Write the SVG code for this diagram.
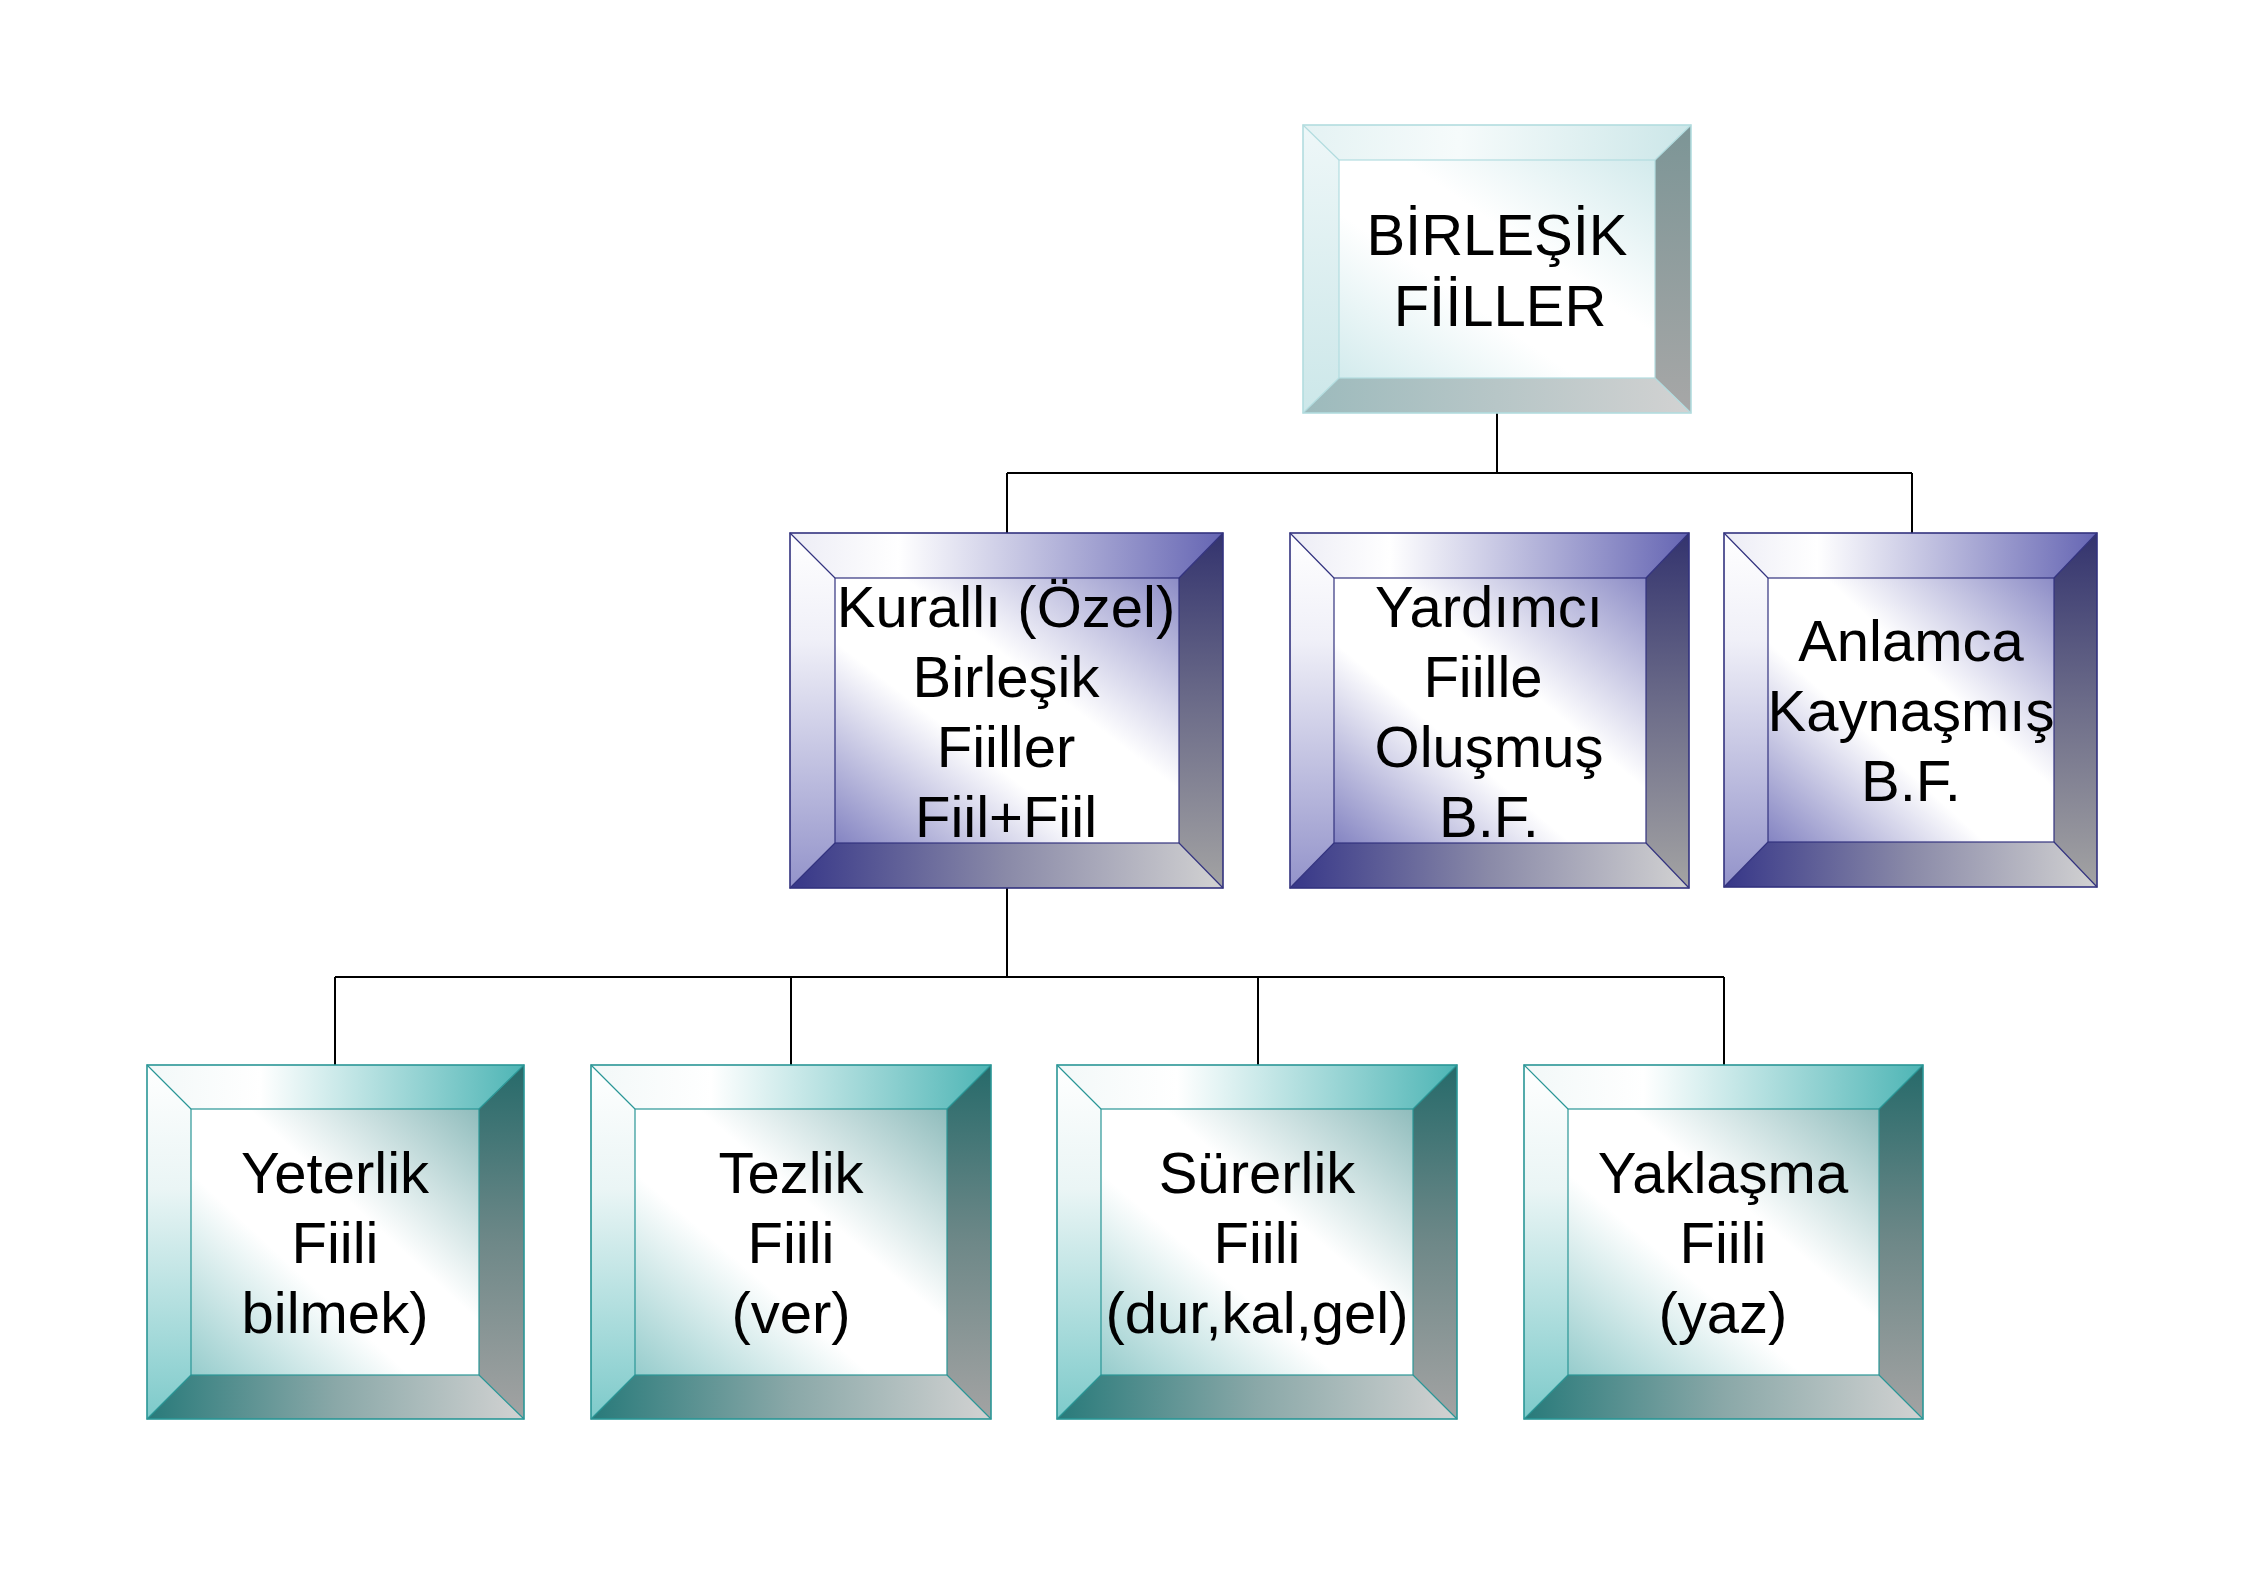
<svg xmlns="http://www.w3.org/2000/svg" width="2258" height="1584" viewBox="0 0 2258 1584">
<style>
  .lbl { font-family: "Liberation Sans", Arial, sans-serif; font-size: 58px; fill: #000; text-anchor: middle; }
  .conn { fill: none; stroke: #000; stroke-width: 2; }
  .ob { fill: none; stroke: #33337f; stroke-width: 1.6; }
  .ib { fill: none; stroke: #33337f; stroke-width: 1.2; }
  .ot { fill: none; stroke: #2a9696; stroke-width: 1.6; }
  .it { fill: none; stroke: #2a9696; stroke-width: 1.2; }
  .oc { fill: none; stroke: #b2dcdf; stroke-width: 1.6; }
  .ic { fill: none; stroke: #b2dcdf; stroke-width: 1.2; }
</style>
<defs>
  <!-- blue scheme -->
  <linearGradient id="bT" x1="0" y1="0" x2="1" y2="0"><stop offset="0" stop-color="#ececf5"/><stop offset="0.25" stop-color="#ffffff"/><stop offset="1" stop-color="#6565b3"/></linearGradient>
  <linearGradient id="bL" x1="0" y1="0" x2="0" y2="1"><stop offset="0" stop-color="#ffffff"/><stop offset="0.3" stop-color="#f0f0f8"/><stop offset="1" stop-color="#9393ca"/></linearGradient>
  <linearGradient id="bR" x1="0" y1="0" x2="0" y2="1"><stop offset="0" stop-color="#33336e"/><stop offset="0.5" stop-color="#6e6e8a"/><stop offset="1" stop-color="#a3a3a3"/></linearGradient>
  <linearGradient id="bB" x1="0" y1="0" x2="1" y2="0"><stop offset="0" stop-color="#363688"/><stop offset="0.5" stop-color="#8a8aa8"/><stop offset="1" stop-color="#d2d2d2"/></linearGradient>
  <linearGradient id="bF" x1="1" y1="0" x2="0" y2="1"><stop offset="0" stop-color="#8c8cc6"/><stop offset="0.4" stop-color="#ffffff"/><stop offset="0.62" stop-color="#ffffff"/><stop offset="1" stop-color="#8484c2"/></linearGradient>
  <!-- teal scheme -->
  <linearGradient id="tT" x1="0" y1="0" x2="1" y2="0"><stop offset="0" stop-color="#f2f8f8"/><stop offset="0.3" stop-color="#ffffff"/><stop offset="1" stop-color="#4db5b5"/></linearGradient>
  <linearGradient id="tL" x1="0" y1="0" x2="0" y2="1"><stop offset="0" stop-color="#ffffff"/><stop offset="0.35" stop-color="#eaf5f5"/><stop offset="1" stop-color="#7dcaca"/></linearGradient>
  <linearGradient id="tR" x1="0" y1="0" x2="0" y2="1"><stop offset="0" stop-color="#266a6a"/><stop offset="0.5" stop-color="#6e8888"/><stop offset="1" stop-color="#a3a3a3"/></linearGradient>
  <linearGradient id="tB" x1="0" y1="0" x2="1" y2="0"><stop offset="0" stop-color="#287a7a"/><stop offset="0.5" stop-color="#8aa8a8"/><stop offset="1" stop-color="#d2d2d2"/></linearGradient>
  <linearGradient id="tF" x1="1" y1="0" x2="0" y2="1"><stop offset="0" stop-color="#8fbcbc"/><stop offset="0.4" stop-color="#ffffff"/><stop offset="0.62" stop-color="#ffffff"/><stop offset="1" stop-color="#96cccc"/></linearGradient>
  <!-- light cyan scheme -->
  <linearGradient id="cT" x1="0" y1="0" x2="1" y2="0"><stop offset="0" stop-color="#e4f2f3"/><stop offset="0.4" stop-color="#f6fbfb"/><stop offset="1" stop-color="#cbe6e8"/></linearGradient>
  <linearGradient id="cL" x1="0" y1="0" x2="0" y2="1"><stop offset="0" stop-color="#eef7f8"/><stop offset="1" stop-color="#cce7e9"/></linearGradient>
  <linearGradient id="cR" x1="0" y1="0" x2="0" y2="1"><stop offset="0" stop-color="#7c9596"/><stop offset="1" stop-color="#a7a7a7"/></linearGradient>
  <linearGradient id="cB" x1="0" y1="0" x2="1" y2="0"><stop offset="0" stop-color="#9cbabc"/><stop offset="1" stop-color="#d2d2d2"/></linearGradient>
  <linearGradient id="cF" x1="1" y1="0" x2="0" y2="1"><stop offset="0" stop-color="#d2eaec"/><stop offset="0.4" stop-color="#ffffff"/><stop offset="0.62" stop-color="#ffffff"/><stop offset="1" stop-color="#d3ebed"/></linearGradient>
</defs>
<rect x="0" y="0" width="2258" height="1584" fill="#ffffff"/>

<g id="connectors">
  <path class="conn" d="M1497,413 V473 M1007,473 H1912 M1007,473 V533 M1912,473 V533"/>
  <path class="conn" d="M1007,888 V977 M335,977 H1724 M335,977 V1065 M791,977 V1065 M1258,977 V1065 M1724,977 V1065"/>
</g>

<g id="node-birlesik-fiiller">
  <polygon fill="url(#cT)" points="1303,125 1691,125 1655,160 1339,160"/>
  <polygon fill="url(#cR)" points="1691,125 1691,413 1655,378 1655,160"/>
  <polygon fill="url(#cB)" points="1303,413 1339,378 1655,378 1691,413"/>
  <polygon fill="url(#cL)" points="1303,125 1339,160 1339,378 1303,413"/>
  <rect fill="url(#cF)" x="1339" y="160" width="316" height="218"/>
  <rect class="oc" x="1303" y="125" width="388" height="288"/>
  <rect class="ic" x="1339" y="160" width="316" height="218"/>
  <path class="ic" d="M1303,125 L1339,160 M1691,125 L1655,160 M1303,413 L1339,378 M1691,413 L1655,378"/>
  <text class="lbl" x="1497" y="255">BİRLEŞİK</text>
  <text class="lbl" x="1500" y="326">FİİLLER</text>
</g>

<g id="node-kuralli">
  <polygon fill="url(#bT)" points="790,533 1223,533 1179,578 835,578"/>
  <polygon fill="url(#bR)" points="1223,533 1223,888 1179,843 1179,578"/>
  <polygon fill="url(#bB)" points="790,888 835,843 1179,843 1223,888"/>
  <polygon fill="url(#bL)" points="790,533 835,578 835,843 790,888"/>
  <rect fill="url(#bF)" x="835" y="578" width="344" height="265"/>
  <rect class="ob" x="790" y="533" width="433" height="355"/>
  <rect class="ib" x="835" y="578" width="344" height="265"/>
  <path class="ib" d="M790,533 L835,578 M1223,533 L1179,578 M790,888 L835,843 M1223,888 L1179,843"/>
  <text class="lbl" x="1006" y="627">Kurallı (Özel)</text>
  <text class="lbl" x="1006" y="697">Birleşik</text>
  <text class="lbl" x="1006" y="767">Fiiller</text>
  <text class="lbl" x="1006" y="837">Fiil+Fiil</text>
</g>

<g id="node-yardimci">
  <polygon fill="url(#bT)" points="1290,533 1689,533 1646,578 1334,578"/>
  <polygon fill="url(#bR)" points="1689,533 1689,888 1646,843 1646,578"/>
  <polygon fill="url(#bB)" points="1290,888 1334,843 1646,843 1689,888"/>
  <polygon fill="url(#bL)" points="1290,533 1334,578 1334,843 1290,888"/>
  <rect fill="url(#bF)" x="1334" y="578" width="312" height="265"/>
  <rect class="ob" x="1290" y="533" width="399" height="355"/>
  <rect class="ib" x="1334" y="578" width="312" height="265"/>
  <path class="ib" d="M1290,533 L1334,578 M1689,533 L1646,578 M1290,888 L1334,843 M1689,888 L1646,843"/>
  <text class="lbl" x="1489" y="627">Yardımcı</text>
  <text class="lbl" x="1483" y="697">Fiille</text>
  <text class="lbl" x="1489" y="767">Oluşmuş</text>
  <text class="lbl" x="1489" y="837">B.F.</text>
</g>

<g id="node-anlamca">
  <polygon fill="url(#bT)" points="1724,533 2097,533 2054,578 1768,578"/>
  <polygon fill="url(#bR)" points="2097,533 2097,887 2054,842 2054,578"/>
  <polygon fill="url(#bB)" points="1724,887 1768,842 2054,842 2097,887"/>
  <polygon fill="url(#bL)" points="1724,533 1768,578 1768,842 1724,887"/>
  <rect fill="url(#bF)" x="1768" y="578" width="286" height="264"/>
  <rect class="ob" x="1724" y="533" width="373" height="354"/>
  <rect class="ib" x="1768" y="578" width="286" height="264"/>
  <path class="ib" d="M1724,533 L1768,578 M2097,533 L2054,578 M1724,887 L1768,842 M2097,887 L2054,842"/>
  <text class="lbl" x="1911" y="661">Anlamca</text>
  <text class="lbl" x="1911" y="731">Kaynaşmış</text>
  <text class="lbl" x="1911" y="801">B.F.</text>
</g>

<g id="node-yeterlik">
  <polygon fill="url(#tT)" points="147,1065 524,1065 479,1109 191,1109"/>
  <polygon fill="url(#tR)" points="524,1065 524,1419 479,1375 479,1109"/>
  <polygon fill="url(#tB)" points="147,1419 191,1375 479,1375 524,1419"/>
  <polygon fill="url(#tL)" points="147,1065 191,1109 191,1375 147,1419"/>
  <rect fill="url(#tF)" x="191" y="1109" width="288" height="266"/>
  <rect class="ot" x="147" y="1065" width="377" height="354"/>
  <rect class="it" x="191" y="1109" width="288" height="266"/>
  <path class="it" d="M147,1065 L191,1109 M524,1065 L479,1109 M147,1419 L191,1375 M524,1419 L479,1375"/>
  <text class="lbl" x="335" y="1193">Yeterlik</text>
  <text class="lbl" x="335" y="1263">Fiili</text>
  <text class="lbl" x="335" y="1333">bilmek)</text>
</g>

<g id="node-tezlik">
  <polygon fill="url(#tT)" points="591,1065 991,1065 947,1109 635,1109"/>
  <polygon fill="url(#tR)" points="991,1065 991,1419 947,1375 947,1109"/>
  <polygon fill="url(#tB)" points="591,1419 635,1375 947,1375 991,1419"/>
  <polygon fill="url(#tL)" points="591,1065 635,1109 635,1375 591,1419"/>
  <rect fill="url(#tF)" x="635" y="1109" width="312" height="266"/>
  <rect class="ot" x="591" y="1065" width="400" height="354"/>
  <rect class="it" x="635" y="1109" width="312" height="266"/>
  <path class="it" d="M591,1065 L635,1109 M991,1065 L947,1109 M591,1419 L635,1375 M991,1419 L947,1375"/>
  <text class="lbl" x="791" y="1193">Tezlik</text>
  <text class="lbl" x="791" y="1263">Fiili</text>
  <text class="lbl" x="791" y="1333">(ver)</text>
</g>

<g id="node-surerlik">
  <polygon fill="url(#tT)" points="1057,1065 1457,1065 1413,1109 1101,1109"/>
  <polygon fill="url(#tR)" points="1457,1065 1457,1419 1413,1375 1413,1109"/>
  <polygon fill="url(#tB)" points="1057,1419 1101,1375 1413,1375 1457,1419"/>
  <polygon fill="url(#tL)" points="1057,1065 1101,1109 1101,1375 1057,1419"/>
  <rect fill="url(#tF)" x="1101" y="1109" width="312" height="266"/>
  <rect class="ot" x="1057" y="1065" width="400" height="354"/>
  <rect class="it" x="1101" y="1109" width="312" height="266"/>
  <path class="it" d="M1057,1065 L1101,1109 M1457,1065 L1413,1109 M1057,1419 L1101,1375 M1457,1419 L1413,1375"/>
  <text class="lbl" x="1257" y="1193">Sürerlik</text>
  <text class="lbl" x="1257" y="1263">Fiili</text>
  <text class="lbl" x="1257" y="1333">(dur,kal,gel)</text>
</g>

<g id="node-yaklasma">
  <polygon fill="url(#tT)" points="1524,1065 1923,1065 1879,1109 1568,1109"/>
  <polygon fill="url(#tR)" points="1923,1065 1923,1419 1879,1375 1879,1109"/>
  <polygon fill="url(#tB)" points="1524,1419 1568,1375 1879,1375 1923,1419"/>
  <polygon fill="url(#tL)" points="1524,1065 1568,1109 1568,1375 1524,1419"/>
  <rect fill="url(#tF)" x="1568" y="1109" width="311" height="266"/>
  <rect class="ot" x="1524" y="1065" width="399" height="354"/>
  <rect class="it" x="1568" y="1109" width="311" height="266"/>
  <path class="it" d="M1524,1065 L1568,1109 M1923,1065 L1879,1109 M1524,1419 L1568,1375 M1923,1419 L1879,1375"/>
  <text class="lbl" x="1723" y="1193">Yaklaşma</text>
  <text class="lbl" x="1723" y="1263">Fiili</text>
  <text class="lbl" x="1723" y="1333">(yaz)</text>
</g>
</svg>
